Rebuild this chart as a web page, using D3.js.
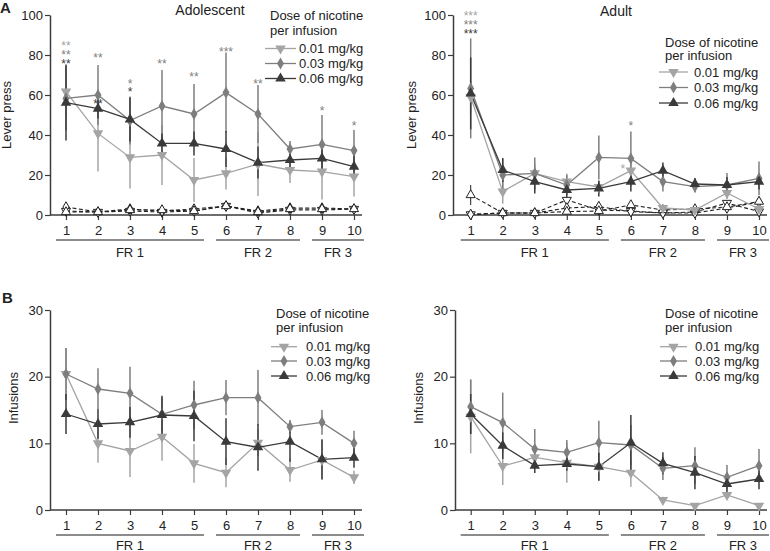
<!DOCTYPE html>
<html><head><meta charset="utf-8">
<script src="https://cdn.jsdelivr.net/npm/d3@7"></script>
<style>body{margin:0;background:#fff} svg{display:block;font-family:"Liberation Sans",Arial,sans-serif}</style>
</head><body><svg id="c" width="770" height="551"></svg>
<script>
// ---------- categories / labels ----------
const sessions = [1,2,3,4,5,6,7,8,9,10];
const frLabels = ["FR 1","FR 2","FR 3"];
const frStart = [1,6,9];
const frEnd = [5,8,10];
const doseLabels = ["0.01 mg/kg","0.03 mg/kg","0.06 mg/kg"];
const legendTitle = ["Dose of nicotine","per infusion"];
const leverTicks = [0,20,40,60,80,100];
const infTicks = [0,10,20,30];

// ---------- A: lever press, adolescent (active) ----------
const lpAdo01 = [61.7,40.8,28.8,30,17.5,20.8,25.5,22.5,21.7,19.2];
const lpAdo01Err = [13,19,15.5,15,11,8,16,6.5,14,10];
const lpAdo03 = [58.3,60,47.2,54.5,50.5,61.2,50.5,33,35.3,32.2];
const lpAdo03Err = [16,15,12,18,15,20,14.5,4,14.7,10.3];
const lpAdo06 = [56.2,53.2,47.8,35.8,35.8,33,26.2,27.5,28.3,24.2];
const lpAdo06Err = [19,5,11,5,6,9,8,6,8,6];
// inactive lever, adolescent
const inAdo01 = [2,1.5,2,1.5,2,4.5,1,2.5,2.5,3];
const inAdo03 = [4,1.5,3,2,3,4.5,2,3.5,3.5,3];
const inAdo06 = [1.5,1.5,2.5,2.5,2,4.5,1.5,3,3,3];

// ---------- A: lever press, adult (active) ----------
const lpAd01 = [59,11.7,20.8,16.7,14,22.2,3.5,2.5,11,3];
const lpAd01Err = [8,6,5,4,3,8,2,1.5,3,1.5];
const lpAd03 = [63.3,20,20.8,15,28.8,28.3,16.7,14.2,15,18.3];
const lpAd03Err = [25,8,8,5,11,13.4,5,3,6,8.4];
const lpAd06 = [60.8,22.5,16.7,12.5,13.3,16.7,22.2,15.5,15,16.7];
const lpAd06Err = [18,6,6,4,4,5,4,3,4,4];
// inactive lever, adult
const inAd01 = [0.3,1,1,7.5,2.5,2,1,1.5,6,1.7];
const inAd03 = [0.3,1,1,3.5,4.2,1.7,1,1,3.5,6.5];
const inAd06 = [10,1,1,1.7,2,5,2.5,3,4,6.7];
const inAd06Err = [5,0,0,0,0,0,0,0,0,0];

// ---------- B: infusions ----------
const infAdo01 = [20.4,10,8.85,11,7,5.6,10.1,6,7.5,4.9];
const infAdo01Err = [3.9,2.9,3.9,3.6,2.9,2.2,2,1.75,3,1];
const infAdo03 = [20.4,18.15,17.5,14.35,15.75,16.85,16.85,12.5,13.15,10];
const infAdo03Err = [3.9,3.1,4,2.5,3.65,2.65,4.15,1,1.85,1.9];
const infAdo06 = [14.4,12.9,13.15,14.25,14.1,10.25,9.4,10.25,7.6,7.85];
const infAdo06Err = [3,2.2,2.3,2.9,3.8,3.5,3.5,3,3,1.5];

const infAd01 = [14,6.6,7.9,7.1,6.5,5.6,1.5,0.65,2.25,0.65];
const infAd01Err = [5.5,2.85,1.5,3,2.1,2.1,0.5,0.3,0.5,0.3];
const infAd03 = [15.5,13.1,9.15,8.65,10.1,9.75,6.25,6.65,4.9,6.65];
const infAd03Err = [4.1,4.5,3,1.85,3.3,3,1.75,2.75,1.85,2.5];
const infAd06 = [14.4,9.65,6.65,6.9,6.5,10.1,7,5.6,3.9,4.65];
const infAd06Err = [3,2,1.1,1,2.1,4.15,1.65,2.5,1.5,1.55];

// ---------- significance marks ----------
const sigAdoSession = [1,1,1,2,2,3,3,4,5,6,7,9,10];
const sigAdoDose    = [0,1,2,1,2,1,2,1,1,1,1,1,1];
const sigAdoText    = ["**","**","**","**","**","*","*","**","**","***","**","*","*"];
const sigAdoValue   = [85.8,81.2,76.7,80,56.7,67,62.8,77,70.5,82.8,66.7,53.3,45.8];
const sigAdSession = [1,1,1,6,5.75];
const sigAdDose    = [0,1,2,1,0];
const sigAdText    = ["***","***","***","*","*"];
const sigAdValue   = [100.8,96.3,92,45.8,24.2];

// ---------- styles ----------
const doseColors = ["#a4a4a4","#7e7e7e","#3a3a3a"];
const axisColor = "#3c3c3c";
const textColor = "#222";
const inactiveColor = "#222";

const svg = d3.select("#c");

const symUp = d3.symbol().type(d3.symbolTriangle).size(48)();
const symDiamond = d3.symbol().type(d3.symbolDiamond).size(42)();
const symUpSmall = d3.symbol().type(d3.symbolTriangle).size(36)();
const symDiamondSmall = d3.symbol().type(d3.symbolDiamond).size(32)();
function markerPath(i, small){
  if(i===1) return small?symDiamondSmall:symDiamond;
  return small?symUpSmall:symUp;
}
function markerRot(i){ return i===0 ? " rotate(180)" : ""; }

const panels = [
  {letter:"A", letterPos:[0,13], title:"Adolescent", titlePos:[210,15], ylabel:"Lever press", ylabelPos:[11,115],
   xr:[66,354], yr:[215,15], yMax:100, ticks:leverTicks, axisX:50, frY:42,
   active:[lpAdo01,lpAdo03,lpAdo06], err:[lpAdo01Err,lpAdo03Err,lpAdo06Err],
   inactive:[inAdo01,inAdo03,inAdo06], inErr:[null,null,null],
   sig:{s:sigAdoSession,d:sigAdoDose,t:sigAdoText,v:sigAdoValue},
   legend:{x:270, ty:[20,35], ey:[48.5,63.5,78.5], lx:[265,296], tx:299}},
  {title:"Adult", titlePos:[616,16], ylabel:"Lever press", ylabelPos:[416,115],
   xr:[470.7,759], yr:[215,15], yMax:100, ticks:leverTicks, axisX:453, frY:42,
   active:[lpAd01,lpAd03,lpAd06], err:[lpAd01Err,lpAd03Err,lpAd06Err],
   inactive:[inAd01,inAd03,inAd06], inErr:[null,null,inAd06Err],
   sig:{s:sigAdSession,d:sigAdDose,t:sigAdText,v:sigAdValue},
   legend:{x:665, ty:[46.5,60], ey:[72,87.5,103], lx:[659,688], tx:694}},
  {letter:"B", letterPos:[2,303], ylabel:"Infusions", ylabelPos:[18,398],
   xr:[66,354], yr:[510,310], yMax:30, ticks:infTicks, axisX:50, frY:40,
   active:[infAdo01,infAdo03,infAdo06], err:[infAdo01Err,infAdo03Err,infAdo06Err],
   legend:{x:276, ty:[318,332], ey:[346.7,361,376], lx:[271,297], tx:306}},
  {ylabel:"Infusions", ylabelPos:[423,398],
   xr:[470.7,759], yr:[510,310], yMax:30, ticks:infTicks, axisX:455, frY:40,
   active:[infAd01,infAd03,infAd06], err:[infAd01Err,infAd03Err,infAd06Err],
   legend:{x:665, ty:[318,332], ey:[346.7,361,376], lx:[660,687], tx:695}}
];

panels.forEach(p => {
  const g = svg.append("g");
  const x = d3.scaleLinear().domain([1,10]).range(p.xr);
  const y = d3.scaleLinear().domain([0,p.yMax]).range(p.yr);
  const xEnd = x(10.25);

  const ya = g.append("g").attr("transform",`translate(${p.axisX},0)`)
    .call(d3.axisLeft(y).tickValues(p.ticks).tickSize(5).tickPadding(2).tickSizeOuter(0));
  const xa = g.append("g").attr("transform",`translate(0,${p.yr[0]})`)
    .call(d3.axisBottom(x).tickValues(sessions).tickSize(5).tickPadding(5.5).tickSizeOuter(0));
  xa.select(".domain").attr("d",`M${p.axisX},0H${xEnd}`);
  [ya,xa].forEach(a=>{
    a.select(".domain").attr("stroke",axisColor).attr("stroke-width",1.5);
    a.selectAll(".tick line").attr("stroke",axisColor).attr("stroke-width",1.2);
    a.selectAll(".tick text").attr("fill",textColor).attr("font-size",13)
      .attr("font-family",'"Liberation Sans",Arial,sans-serif');
  });

  frLabels.forEach((lab,i)=>{
    const x0 = x(frStart[i])-10, x1 = Math.min(x(frEnd[i])+10, 769);
    g.append("line").attr("x1",x0).attr("x2",x1).attr("y1",p.yr[0]+25).attr("y2",p.yr[0]+25)
      .attr("stroke","#666").attr("stroke-width",1.5);
    g.append("text").attr("x",(x(frStart[i])+x(frEnd[i]))/2).attr("y",p.yr[0]+p.frY)
      .attr("text-anchor","middle").attr("font-size",13).attr("fill",textColor).text(lab);
  });

  g.append("text").attr("transform",`translate(${p.ylabelPos[0]},${p.ylabelPos[1]}) rotate(-90)`)
    .attr("text-anchor","middle").attr("font-size",13).attr("fill",textColor).text(p.ylabel);
  if(p.title) g.append("text").attr("x",p.titlePos[0]).attr("y",p.titlePos[1]).attr("text-anchor","middle")
    .attr("font-size",14).attr("fill",textColor).text(p.title);
  if(p.letter) g.append("text").attr("x",p.letterPos[0]).attr("y",p.letterPos[1])
    .attr("font-size",15).attr("font-weight","bold").attr("fill",textColor).text(p.letter);

  const line = d3.line().x((d,i)=>x(sessions[i])).y(d=>y(d));

  if(p.inactive){
    p.inactive.forEach((ser,k)=>{
      if(p.inErr[k]){
        g.append("g").selectAll("line").data(ser).join("line")
          .filter((d,i)=>p.inErr[k][i]>0)
          .attr("x1",(d,i)=>x(sessions[i])).attr("x2",(d,i)=>x(sessions[i]))
          .attr("y1",(d,i)=>y(d+p.inErr[k][i])).attr("y2",(d,i)=>y(Math.max(0,d-p.inErr[k][i])))
          .attr("stroke",inactiveColor).attr("stroke-width",1);
      }
      g.append("path").attr("d",line(ser)).attr("fill","none").attr("stroke",inactiveColor)
        .attr("stroke-width",1.1).attr("stroke-dasharray","4,2.5");
    });
    p.inactive.forEach((ser,k)=>{
      g.append("g").selectAll("path").data(ser).join("path")
        .attr("d",markerPath(k,true))
        .attr("transform",(d,i)=>`translate(${x(sessions[i])},${y(d)})${markerRot(k)}`)
        .attr("fill","#fff").attr("stroke",inactiveColor).attr("stroke-width",1);
    });
  }

  p.active.forEach((ser,k)=>{
    g.append("g").selectAll("line").data(ser).join("line")
      .attr("x1",(d,i)=>x(sessions[i])).attr("x2",(d,i)=>x(sessions[i]))
      .attr("y1",(d,i)=>y(d+p.err[k][i])).attr("y2",(d,i)=>y(Math.max(0,d-p.err[k][i])))
      .attr("stroke",doseColors[k]).attr("stroke-width",1.5);
  });
  p.active.forEach((ser,k)=>{
    g.append("path").attr("d",line(ser)).attr("fill","none").attr("stroke",doseColors[k]).attr("stroke-width",1.3);
  });
  p.active.forEach((ser,k)=>{
    g.append("g").selectAll("path").data(ser).join("path")
      .attr("d",markerPath(k,false))
      .attr("transform",(d,i)=>`translate(${x(sessions[i])},${y(d)})${markerRot(k)}`)
      .attr("fill",doseColors[k]);
  });

  if(p.sig){
    p.sig.s.forEach((s,i)=>{
      g.append("text").attr("x",x(s)).attr("y",y(p.sig.v[i])+6.8).attr("text-anchor","middle")
        .attr("font-size",12).attr("fill",doseColors[p.sig.d[i]]).text(p.sig.t[i]);
    });
  }

  const L = p.legend;
  legendTitle.forEach((t,i)=>{
    g.append("text").attr("x",L.x).attr("y",L.ty[i]).attr("font-size",13).attr("fill",textColor).text(t);
  });
  doseLabels.forEach((t,k)=>{
    const yy = L.ey[k];
    g.append("line").attr("x1",L.lx[0]).attr("x2",L.lx[1]).attr("y1",yy).attr("y2",yy)
      .attr("stroke",doseColors[k]).attr("stroke-width",1.3);
    g.append("path").attr("d",markerPath(k,false))
      .attr("transform",`translate(${(L.lx[0]+L.lx[1])/2},${yy})${markerRot(k)}`).attr("fill",doseColors[k]);
    g.append("text").attr("x",L.tx).attr("y",yy+4.7).attr("font-size",13).attr("fill",textColor).text(t);
  });
});
</script></body></html>
